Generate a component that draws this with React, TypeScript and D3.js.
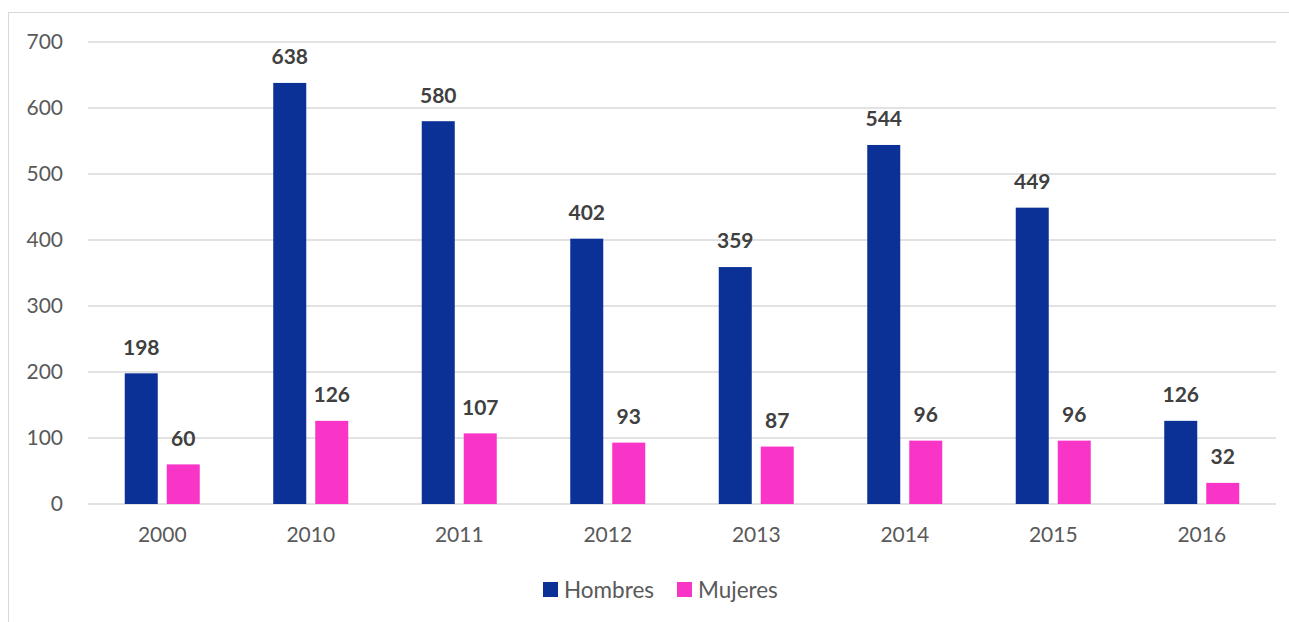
import React from "react";
import * as d3 from "d3";

const years = ["2000", "2010", "2011", "2012", "2013", "2014", "2015", "2016"];
const hombres = [198, 638, 580, 402, 359, 544, 449, 126];
const mujeres = [60, 126, 107, 93, 87, 96, 96, 32];
const yTicks = [0, 100, 200, 300, 400, 500, 600, 700];
const seriesNames = ["Hombres", "Mujeres"];
const seriesColors = ["#0b3196", "#f935c8"];

const W = 1289;
const H = 622;
const FONT = "Lato, 'Open Sans', sans-serif";

export default function App() {
  const x = d3.scaleBand<string>().domain(years).range([88, 1276]);
  const y = d3.scaleLinear().domain([0, 700]).range([504, 42]);
  const barW = 33;
  const gap = 9;
  const series = [hombres, mujeres];

  return (
    <svg
      width={W}
      height={H}
      style={{ position: "absolute", left: 0, top: 0, background: "#fff" }}
    >
      <rect x={0} y={0} width={W} height={H} fill="#fff" />
      <rect x={8.5} y={12.5} width={W + 20} height={H + 20} fill="none" stroke="#d9d9d9" strokeWidth={1} />
      {yTicks.map((t) => (
        <g key={t}>
          <line x1={88} x2={1276} y1={y(t)} y2={y(t)} stroke="#d9d9d9" strokeWidth={1.5} />
          <text
            x={63}
            y={y(t)}
            dy="0.35em"
            textAnchor="end"
            fontFamily={FONT}
            fontSize={21}
            fill="#595959"
          >
            {t}
          </text>
        </g>
      ))}
      {years.map((yr, i) => {
        const cx = (x(yr) as number) + x.bandwidth() / 2;
        return (
          <g key={yr}>
            {series.map((s, k) => {
              const bx = k === 0 ? cx - gap / 2 - barW : cx + gap / 2;
              const v = s[i];
              return (
                <g key={k}>
                  <rect x={bx} y={y(v)} width={barW} height={y(0) - y(v)} fill={seriesColors[k]} />
                  <text
                    x={bx + barW / 2}
                    y={y(v) - 26}
                    dy="0.35em"
                    textAnchor="middle"
                    fontFamily={FONT}
                    fontWeight="bold"
                    fontSize={21}
                    fill="#404040"
                  >
                    {v}
                  </text>
                </g>
              );
            })}
            <text
              x={cx}
              y={535}
              dy="0.35em"
              textAnchor="middle"
              fontFamily={FONT}
              fontSize={21}
              fill="#595959"
            >
              {yr}
            </text>
          </g>
        );
      })}
      {seriesNames.map((n, k) => {
        const lx = k === 0 ? 543 : 677;
        return (
          <g key={n}>
            <rect x={lx} y={582} width={15} height={15} fill={seriesColors[k]} />
            <text
              x={lx + 21}
              y={590}
              dy="0.35em"
              fontFamily={FONT}
              fontSize={22.5}
              fill="#595959"
            >
              {n}
            </text>
          </g>
        );
      })}
    </svg>
  );
}
